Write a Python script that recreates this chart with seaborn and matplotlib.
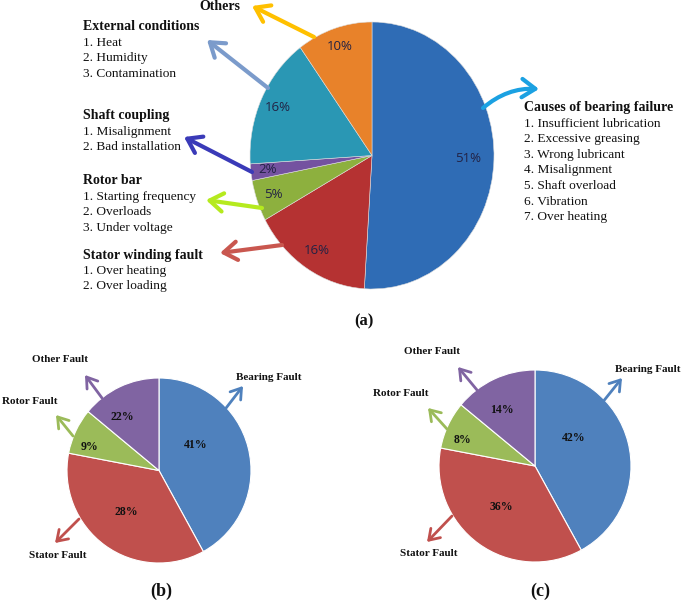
import matplotlib
matplotlib.use("Agg")
import matplotlib.pyplot as plt
import seaborn as sns
import numpy as np

# ---------------- data ----------------
a_categories = ["Causes of bearing failure", "Stator winding fault", "Rotor bar",
                "Shaft coupling", "External conditions", "Others"]
a_values = [51, 16, 5, 2, 16, 10]
a_pct_labels = ["51%", "16%", "5%", "2%", "16%", "10%"]

a_causes = {
    "Causes of bearing failure": ["1. Insufficient lubrication", "2. Excessive greasing",
                                  "3. Wrong lubricant", "4. Misalignment", "5. Shaft overload",
                                  "6. Vibration", "7. Over heating"],
    "Stator winding fault": ["1. Over heating", "2. Over loading"],
    "Rotor bar": ["1. Starting frequency", "2. Overloads", "3. Under voltage"],
    "Shaft coupling": ["1. Misalignment", "2. Bad installation"],
    "External conditions": ["1. Heat", "2. Humidity", "3. Contamination"],
    "Others": [],
}

bc_categories = ["Bearing Fault", "Stator Fault", "Rotor Fault", "Other Fault"]
b_values = [42, 36, 8, 14]
b_pct_labels = ["41%", "28%", "9%", "22%"]
c_values = [42, 36, 8, 14]
c_pct_labels = ["42%", "36%", "8%", "14%"]

# ---------------- style ----------------
sns.set_theme(style="white")
plt.rcParams["font.family"] = ["Liberation Serif", "DejaVu Serif"]

a_colors = ["#2F6CB5", "#B53232", "#8DB03E", "#7452A0", "#2A97B4", "#E8822A"]
a_arrow_colors = ["#1BA1E2", "#C9574F", "#B5EA1E", "#3A3AB8", "#7B9BCB", "#FFC000"]
bc_colors = sns.color_palette(["#4F81BD", "#C0504D", "#9BBB59", "#8064A2"])

W, H = 685, 602
fig = plt.figure(figsize=(W / 100, H / 100), dpi=100)
fig.patch.set_facecolor("white")


def pie_axes(cx, cy, rx, ry):
    ax = fig.add_axes([(cx - rx) / W, 1 - (cy + ry) / H, 2 * rx / W, 2 * ry / H])
    return ax


def draw_pie(ax, values, colors, edge, lw):
    wedges, _ = ax.pie(values, colors=colors, startangle=90, counterclock=False,
                       radius=1.0, wedgeprops=dict(edgecolor=edge, linewidth=lw))
    ax.set_aspect("auto")
    ax.set_xlim(-1, 1)
    ax.set_ylim(-1, 1)
    ax.axis("off")
    return wedges


def label_wedges(ax, wedges, texts, dists, **kw):
    for w, t, d in zip(wedges, texts, dists):
        mid = np.deg2rad((w.theta1 + w.theta2) / 2)
        ax.text(d * np.cos(mid), d * np.sin(mid), t, ha="center", va="center", **kw)


# ---- pie (a) ----
axA = pie_axes(372, 155.5, 122, 133.5)
wA = draw_pie(axA, a_values, a_colors, "#dddddd", 0.4)
label_wedges(axA, wA, a_pct_labels, [0.79, 0.84, 0.86, 0.86, 0.85, 0.86],
             fontsize=9.5, color="#222244", family=["Open Sans", "DejaVu Sans"])

# ---- pie (b) ----
axB = pie_axes(159, 470.5, 92, 92.5)
wB = draw_pie(axB, b_values, bc_colors, "white", 0.8)
b_label_pos = [(0.40, 0.28), (-0.35, -0.45), (-0.76, 0.25), (-0.40, 0.58)]
for (x, y), t in zip(b_label_pos, b_pct_labels):
    axB.text(x, y, t, ha="center", va="center", fontsize=8.5, fontweight="bold", color="#111111")

# ---- pie (c) ----
axC = pie_axes(535, 466, 96, 96)
wC = draw_pie(axC, c_values, bc_colors, "white", 0.8)
c_label_pos = [(0.40, 0.29), (-0.35, -0.43), (-0.75, 0.27), (-0.34, 0.58)]
for (x, y), t in zip(c_label_pos, c_pct_labels):
    axC.text(x, y, t, ha="center", va="center", fontsize=8.5, fontweight="bold", color="#111111")

# ---------------- overlay (pixel coordinates) ----------------
ov = fig.add_axes([0, 0, 1, 1])
ov.set_xlim(0, W)
ov.set_ylim(H, 0)
ov.axis("off")
ov.patch.set_alpha(0)


def arrow(x0, y0, x1, y1, color, lw, hl=0.7, hw=0.45, rad=0.0):
    ov.annotate("", xy=(x1, y1), xytext=(x0, y0),
                arrowprops=dict(arrowstyle=f"->,head_length={hl},head_width={hw}",
                                color=color, lw=lw, shrinkA=0, shrinkB=0,
                                connectionstyle=f"arc3,rad={rad}"))


# (a) arrows: bearing, stator, rotor, shaft, external, others
a_arrows = [(483, 108, 539, 89, -0.2), (282, 245, 220, 253, 0.0), (262, 208, 206, 200, 0.0),
            (252, 172, 184, 137, 0.0), (268, 88, 207, 40, 0.0), (314, 37, 252, 6, 0.0)]
for (x0, y0, x1, y1, rad), col in zip(a_arrows, a_arrow_colors):
    arrow(x0, y0, x1, y1, col, 3.0, hl=0.8, hw=0.55, rad=rad)

# (a) text blocks
fs_a = 9.6
lh = 15.6
blocks = [("Causes of bearing failure", 524, 108), ("Stator winding fault", 83, 255),
          ("Rotor bar", 83, 181), ("Shaft coupling", 83, 116),
          ("External conditions", 83, 27), ("Others", 220, 7)]
for name, x, y in blocks:
    ha = "center" if name == "Others" else "left"
    ov.text(x, y, name, ha=ha, va="center", fontsize=10, fontweight="bold", color="#111111")
    for i, item in enumerate(a_causes[name]):
        ov.text(x, y + lh * (i + 1), item, ha="left", va="center", fontsize=fs_a, color="#111111")

ov.text(364, 321, "(a)", ha="center", va="center", fontsize=12, fontweight="bold", color="#111111")

# (b) arrows + labels
b_arrows = [(223, 412, 243, 386), (79, 519, 55, 543), (73, 436, 56, 415), (102, 398, 85, 375)]
for (x0, y0, x1, y1), col in zip(b_arrows, bc_colors):
    arrow(x0, y0, x1, y1, col, 2.0, hl=0.6, hw=0.4)
b_text_pos = [(269, 377), (58, 556), (30, 402), (60, 360)]
for (x, y), t in zip(b_text_pos, bc_categories):
    ov.text(x, y, t, ha="center", va="center", fontsize=8, fontweight="bold", color="#111111")
ov.text(161, 591, "(b)", ha="center", va="center", fontsize=13, fontweight="bold", color="#111111")

# (c) arrows + labels
c_arrows = [(602, 403, 622, 378), (452, 516, 427, 542), (447, 429, 428, 408), (477, 390, 458, 367)]
for (x0, y0, x1, y1), col in zip(c_arrows, bc_colors):
    arrow(x0, y0, x1, y1, col, 2.0, hl=0.6, hw=0.4)
c_text_pos = [(648, 369), (429, 554), (401, 394), (432, 351)]
for (x, y), t in zip(c_text_pos, bc_categories):
    ov.text(x, y, t, ha="center", va="center", fontsize=8, fontweight="bold", color="#111111")
ov.text(540, 591, "(c)", ha="center", va="center", fontsize=13, fontweight="bold", color="#111111")

fig.savefig("out.png", dpi=100, facecolor="white")
